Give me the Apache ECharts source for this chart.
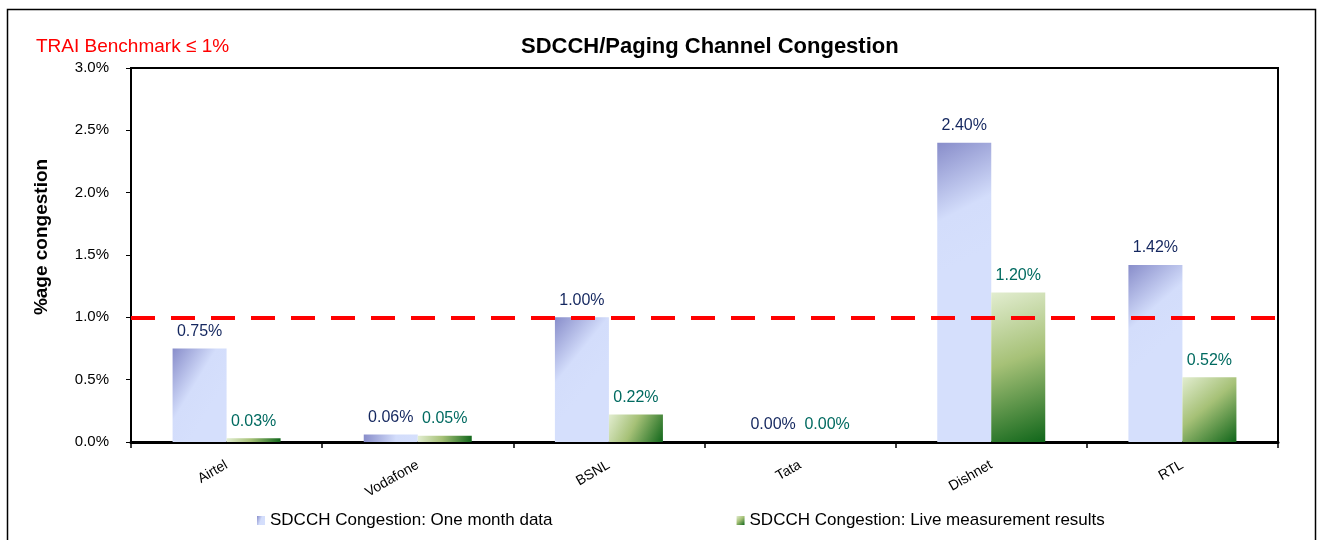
<!DOCTYPE html>
<html>
<head>
<meta charset="utf-8">
<script src="https://cdn.jsdelivr.net/npm/echarts@6/dist/echarts.min.js"></script>
<style>
  html, body { margin: 0; padding: 0; background: #fff; }
  #main { width: 1320px; height: 540px; }
</style>
</head>
<body>
<div id="main"></div>
<script>
// data
var operators = ['Airtel', 'Vodafone', 'BSNL', 'Tata', 'Dishnet', 'RTL']
var oneMonth = [0.75, 0.06, 1.00, 0.00, 2.40, 1.42]
var liveMeasure = [0.03, 0.05, 0.22, 0.00, 1.20, 0.52]
var benchmark = 1.0

var FONT = '"Liberation Sans", Arial, sans-serif'

var blueFill = new echarts.graphic.LinearGradient(0, 0, 1, 0.35, [
  { offset: 0, color: '#888dca' },
  { offset: 0.6, color: '#d3ddfb' },
  { offset: 1, color: '#d5dffc' }
])
var greenFill = new echarts.graphic.LinearGradient(0, 0, 1, 1, [
  { offset: 0, color: '#e2edd0' },
  { offset: 0.45, color: '#a6c177' },
  { offset: 1, color: '#10661a' }
])

var pct2 = function (p) { return p.value.toFixed(2) + '%' }

var chart = echarts.init(document.getElementById('main'))
chart.setOption({
  animation: false,
  backgroundColor: '#fff',
  textStyle: { fontFamily: FONT },
  graphic: [{
    type: 'rect',
    shape: { x: 7.5, y: 9.5, width: 1308, height: 545 },
    style: { fill: 'none', stroke: '#000', lineWidth: 1.5 }
  }],
  title: [
    {
      text: 'SDCCH/Paging Channel Congestion',
      left: 516,
      top: 31,
      textStyle: { fontFamily: FONT, fontSize: 22, fontWeight: 'bold', color: '#000' }
    },
    {
      text: 'TRAI Benchmark ≤ 1%',
      left: 31,
      top: 32,
      textStyle: { fontFamily: FONT, fontSize: 19, fontWeight: 'normal', color: '#ff0000' }
    }
  ],
  legend: {
    bottom: 6,
    left: 252,
    itemGap: 184,
    icon: 'rect',
    itemWidth: 8,
    itemHeight: 9,
    textStyle: { fontFamily: FONT, fontSize: 17, color: '#000' },
    data: ['SDCCH Congestion: One month data', 'SDCCH Congestion: Live measurement results']
  },
  grid: {
    left: 131,
    right: 42,
    top: 68,
    bottom: 98,
    show: true,
    borderColor: '#000',
    borderWidth: 2
  },
  xAxis: {
    type: 'category',
    data: operators,
    axisLine: { lineStyle: { color: '#000', width: 3 } },
    axisTick: { show: true, length: 6, lineStyle: { color: '#000', width: 1.5 } },
    axisLabel: { rotate: 30, margin: 22, fontSize: 14, color: '#000', fontFamily: FONT },
    splitLine: { show: false }
  },
  yAxis: {
    type: 'value',
    min: 0,
    max: 3,
    interval: 0.5,
    name: '%age congestion',
    nameLocation: 'middle',
    nameRotate: 90,
    nameGap: 80,
    nameTextStyle: {
      fontFamily: FONT,
      fontSize: 19,
      fontWeight: 'bold',
      color: '#000',
      padding: [0, 0, 0, 36]
    },
    axisLine: { show: true, lineStyle: { color: '#000', width: 1 } },
    axisTick: { show: true, inside: false, length: 5, lineStyle: { color: '#000' } },
    axisLabel: {
      margin: 22,
      fontSize: 15,
      color: '#000',
      fontFamily: FONT,
      formatter: function (v) { return v.toFixed(1) + '%' }
    },
    splitLine: { show: false }
  },
  series: [
    {
      name: 'SDCCH Congestion: One month data',
      type: 'bar',
      data: oneMonth,
      barWidth: 54,
      barGap: '0%',
      itemStyle: { color: blueFill },
      label: {
        show: true,
        position: 'top',
        distance: 9,
        fontSize: 16,
        color: '#14275f',
        fontFamily: FONT,
        formatter: pct2
      },
      markLine: {
        silent: true,
        symbol: 'none',
        label: { show: false },
        lineStyle: { color: '#ff0000', width: 4, type: [24, 16] },
        data: [{ yAxis: benchmark }]
      }
    },
    {
      name: 'SDCCH Congestion: Live measurement results',
      type: 'bar',
      data: liveMeasure,
      barWidth: 54,
      barGap: '0%',
      itemStyle: { color: greenFill },
      label: {
        show: true,
        position: 'top',
        distance: 9,
        fontSize: 16,
        color: '#006a60',
        fontFamily: FONT,
        formatter: pct2
      }
    }
  ]
})
</script>
</body>
</html>
